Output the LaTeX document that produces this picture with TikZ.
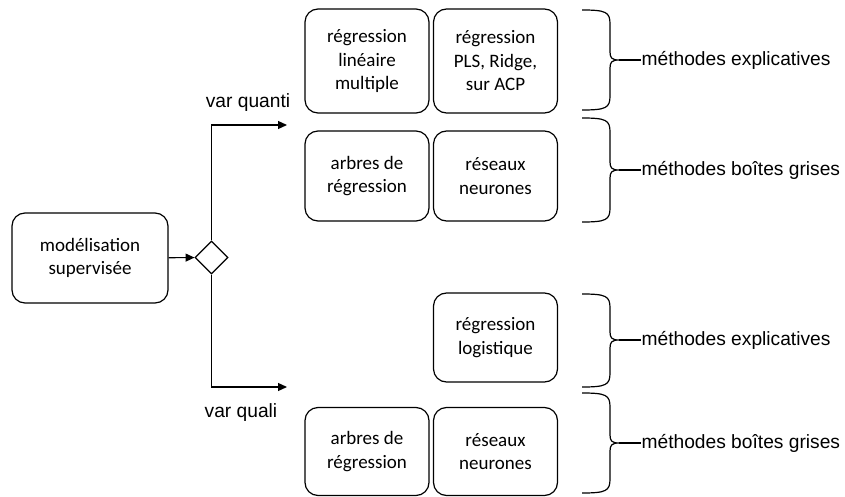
\documentclass[tikz,border=0pt]{standalone}
\usepackage{fontspec}
\setmainfont{Carlito}
\newfontfamily\arialfont{Liberation Sans}
\usetikzlibrary{shapes.geometric,arrows.meta}

\tikzset{
  box/.style={draw, rounded corners=13pt, line width=1.2pt, align=center, minimum width=124pt, inner sep=0pt, font=\fontsize{19}{23.5}\selectfont},
  lbl/.style={inner sep=0pt, font=\arialfont\fontsize{19.2}{22}\selectfont},
}

\begin{document}
\begin{tikzpicture}[x=1pt, y=-1pt, line width=1.2pt, >={Triangle[length=9pt,width=8pt]}]
\useasboundingbox (0,0) rectangle (845,497);
% start and decision
\node (sup) at (90,258) [box, minimum width=156pt, minimum height=90pt] {modélisation\\supervisée};
\node (dec) at (211.5,257.5) [diamond, draw, line width=1.1pt, inner sep=0pt, minimum width=33pt, minimum height=33pt] {};
\coordinate (qt) at (287,125);
\coordinate (ql) at (287,387);
\draw[->] (sup) -- (dec);
\draw[->] (dec.north) |- (qt);
\draw[->] (dec.south) |- (ql);
\node (lqt) at (248,103) [lbl] {var quanti};
\node (lql) at (241,413) [lbl] {var quali};

% var quanti
\node (rlm) at (367,61) [box, minimum height=104pt] {régression\\linéaire\\multiple};
\node (pls) at (495.5,61) [box, minimum height=104pt] {régression\\PLS, Ridge,\\sur ACP};
\node (arb1) at (367,176) [box, minimum height=90pt] {arbres de\\régression};
\node (res1) at (495.5,176) [box, minimum height=90pt] {réseaux\\neurones};

% var quali
\node (log) at (495.5,337.5) [box, minimum height=89pt] {régression\\logistique};
\node (arb2) at (367,451.5) [box, minimum height=88pt] {arbres de\\régression};
\node (res2) at (495.5,451.5) [box, minimum height=88pt] {réseaux\\neurones};

% braces
\coordinate (be1) at (619,60);
\coordinate (bg1) at (619,170);
\coordinate (be2) at (619,340);
\coordinate (bg2) at (619,443);
\draw (582,10) .. controls (606,10) and (610,12) .. (610,24) -- (610,52) .. controls (610,58) and (612,60) .. (be1)
  .. controls (612,60) and (610,62) .. (610,68) -- (610,96) .. controls (610,108) and (606,110) .. (582,110);
\draw (582,118) .. controls (606,118) and (610,120) .. (610,132) -- (610,162) .. controls (610,168) and (612,170) .. (bg1)
  .. controls (612,170) and (610,172) .. (610,178) -- (610,208) .. controls (610,220) and (606,222) .. (582,222);
\draw (582,294) .. controls (606,294) and (610,296) .. (610,308) -- (610,332) .. controls (610,338) and (612,340) .. (be2)
  .. controls (612,340) and (610,342) .. (610,348) -- (610,373) .. controls (610,385) and (606,387) .. (582,387);
\draw (582,393) .. controls (606,393) and (610,395) .. (610,407) -- (610,435) .. controls (610,441) and (612,443) .. (bg2)
  .. controls (612,443) and (610,445) .. (610,451) -- (610,479) .. controls (610,491) and (606,493) .. (582,493);

\node (te1) at (641,60) [lbl, anchor=west] {méthodes explicatives};
\node (tg1) at (641,170) [lbl, anchor=west] {méthodes boîtes grises};
\node (te2) at (641,340) [lbl, anchor=west] {méthodes explicatives};
\node (tg2) at (641,443) [lbl, anchor=west] {méthodes boîtes grises};
\draw (be1) -- (te1.west);
\draw (bg1) -- (tg1.west);
\draw (be2) -- (te2.west);
\draw (bg2) -- (tg2.west);
\end{tikzpicture}
\end{document}
